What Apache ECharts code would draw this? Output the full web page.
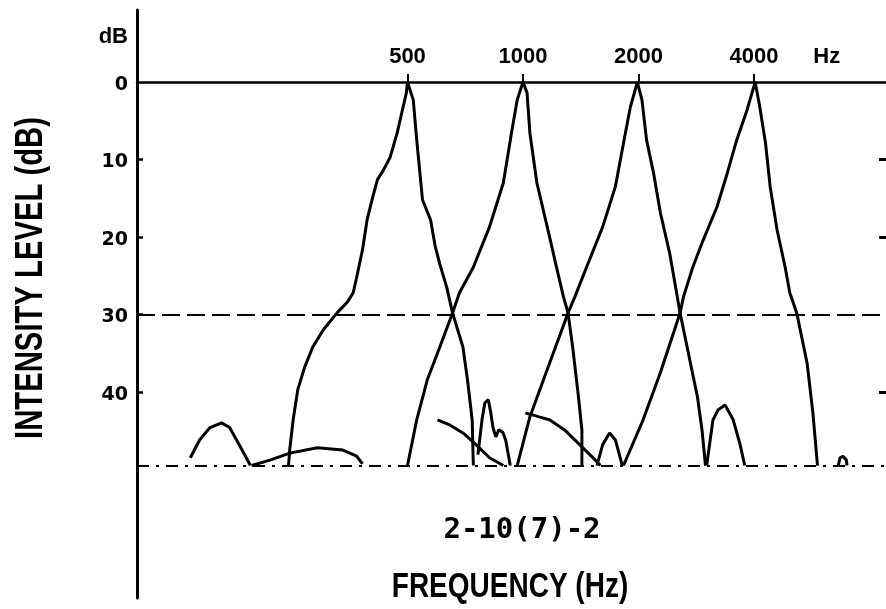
<!DOCTYPE html>
<html>
<head>
<meta charset="utf-8">
<script src="https://cdn.jsdelivr.net/npm/echarts@6/dist/echarts.min.js"></script>
<style>
html,body{margin:0;padding:0;background:#fff;}
#chart{width:886px;height:609px;}
</style>
</head>
<body>
<div id="chart"></div>
<script>
// x values: octaves relative to 1000 Hz; y values: intensity level in dB (downward)
const topTickValues = [-1, 0, 1, 2, 2.63];
const topTickLabels = ['500', '1000', '2000', '4000', 'Hz'];
const yTickValues = [-6.2, 0, 10, 20, 30, 40];
const yTickLabels = ['dB', '0', '10', '20', '30', '40'];
const refLevels = [30, 49.5];

const filter500 = [[-2.03,49.5],[-2.02,47.5],[-1.99,43.6],[-1.95,39.7],[-1.89,36.8],[-1.82,34.2],[-1.73,32.0],[-1.61,29.8],[-1.52,28.4],[-1.47,27.2],[-1.44,25.2],[-1.39,21.7],[-1.35,17.8],[-1.30,14.8],[-1.26,12.6],[-1.21,11.4],[-1.15,9.7],[-1.09,6.6],[-1.05,4.0],[-1.01,1.4],[-1.0,0],[-0.95,2.3],[-0.92,7.5],[-0.87,15.2],[-0.80,17.8],[-0.76,21.2],[-0.72,23.5],[-0.66,26.5],[-0.61,29.8],[-0.52,34.2],[-0.48,38.5],[-0.44,43.6],[-0.43,49.5]];
const filter1000 = [[-1.0,49.5],[-0.92,43.6],[-0.83,38.5],[-0.72,34.2],[-0.61,29.8],[-0.55,27.2],[-0.43,23.9],[-0.29,18.7],[-0.17,13.0],[-0.10,6.6],[-0.05,2.3],[0,0],[0.035,1.4],[0.06,6.6],[0.12,13.0],[0.21,18.7],[0.29,23.9],[0.35,27.7],[0.39,29.8],[0.43,34.2],[0.48,40.6],[0.51,44.9],[0.51,49.5]];
const filter2000 = [[-0.05,49.5],[0.06,43.2],[0.23,36.3],[0.39,29.8],[0.45,27.7],[0.55,23.9],[0.69,18.7],[0.80,13.5],[0.87,7.9],[0.93,3.2],[0.99,0],[1.03,2.3],[1.07,7.5],[1.13,11.7],[1.19,16.9],[1.27,22.1],[1.33,27.2],[1.36,29.8],[1.45,36.3],[1.51,40.6],[1.55,44.9],[1.58,49.5]];
const filter4000 = [[0.87,49.5],[1.04,43.6],[1.19,37.5],[1.36,29.8],[1.39,27.7],[1.47,23.9],[1.56,20.4],[1.68,16.1],[1.77,11.7],[1.85,7.5],[1.94,3.6],[2.01,0],[2.05,3.2],[2.10,7.9],[2.14,13.5],[2.20,19.1],[2.27,23.9],[2.31,27.2],[2.37,29.8],[2.46,36.3],[2.51,42.7],[2.55,49.5]];

const lobeA = [[-2.88,48.5],[-2.80,46.2],[-2.71,44.6],[-2.61,44.0],[-2.54,44.6],[-2.48,46.2],[-2.41,48.1],[-2.36,49.5]];
const lobeB = [[-2.35,49.5],[-2.19,48.8],[-2.02,47.9],[-1.78,47.2],[-1.56,47.5],[-1.44,48.3],[-1.39,49.3]];
const lobeC = [[-0.74,43.6],[-0.63,44.3],[-0.52,45.3],[-0.42,46.6],[-0.29,48.5],[-0.17,49.5]];
const lobeD = [[-0.39,48.1],[-0.355,43.6],[-0.33,41.4],[-0.30,41.0],[-0.28,42.6],[-0.26,44.6],[-0.235,45.8],[-0.21,44.9],[-0.175,45.2],[-0.15,46.2],[-0.11,49.5]];
const lobeE = [[0.02,42.7],[0.23,43.6],[0.36,44.9],[0.49,46.8],[0.64,49.0],[0.67,49.5]];
const lobeF = [[0.64,49.5],[0.69,46.8],[0.75,45.3],[0.80,46.2],[0.86,49.5]];
const lobeG = [[1.59,49.5],[1.645,43.6],[1.69,42.3],[1.75,41.7],[1.82,43.6],[1.88,46.8],[1.92,49.5]];
const lobeH = [[2.73,49.5],[2.745,48.5],[2.77,48.3],[2.80,48.8],[2.805,49.5]];

const curves = [filter500, filter1000, filter2000, filter4000, lobeA, lobeB, lobeC, lobeD, lobeE, lobeF, lobeG, lobeH];

const Y_MIN = -9.3, Y_MAX = 66.6;
const GRID_TOP = 10, GRID_BOTTOM = 11, CH = 609;

function nearestLabel(values, labels, v) {
  let best = 0, d = Infinity;
  values.forEach((x, i) => { if (Math.abs(x - v) < d) { d = Math.abs(x - v); best = i; } });
  return labels[best];
}

const chart = echarts.init(document.getElementById('chart'));
const series = curves.map(c => ({
  type: 'line',
  data: c,
  symbol: 'none',
  smooth: false,
  silent: true,
  lineStyle: { color: '#000', width: 3 },
  z: 3
}));
series[0].markLine = {
  silent: true,
  symbol: 'none',
  label: { show: false },
  data: [
    { yAxis: refLevels[0], lineStyle: { color: '#000', width: 2, type: [18, 7] } },
    { yAxis: refLevels[1], lineStyle: { color: '#000', width: 2, type: [12, 7, 3, 7] } }
  ]
};

// distance from grid top to the 0 dB level, so the top axis sits on 0 dB
const plotH = CH - GRID_TOP - GRID_BOTTOM;
const zeroOffset = plotH * (0 - Y_MIN) / (Y_MAX - Y_MIN);

chart.setOption({
  animation: false,
  backgroundColor: '#fff',
  grid: { left: 137, right: 0, top: GRID_TOP, bottom: GRID_BOTTOM, outerBoundsMode: 'none', containLabel: false },
  xAxis: {
    type: 'value',
    position: 'top',
    offset: -zeroOffset,
    min: -3.342,
    max: 3.143,
    axisLine: { show: true, onZero: false, lineStyle: { color: '#000', width: 2.5 } },
    axisTick: { show: true, customValues: [-1, 0, 1, 2], inside: false, length: 8, lineStyle: { color: '#000', width: 2 } },
    axisLabel: {
      customValues: topTickValues,
      margin: 14,
      color: '#000',
      fontFamily: '"Liberation Sans"',
      fontWeight: 'bold',
      fontSize: 22,
      formatter: v => nearestLabel(topTickValues, topTickLabels, v)
    },
    splitLine: { show: false }
  },
  yAxis: [{
    type: 'value',
    inverse: true,
    min: Y_MIN,
    max: Y_MAX,
    axisLine: { show: true, onZero: false, lineStyle: { color: '#000', width: 3 } },
    axisTick: { show: true, customValues: [10, 20, 30, 40], inside: true, length: 6, lineStyle: { color: '#000', width: 2.5 } },
    axisLabel: {
      customValues: yTickValues,
      margin: 9,
      color: '#000',
      fontFamily: '"DejaVu Sans"',
      fontWeight: 'bold',
      fontSize: 19,
      padding: [6, 0, 0, 0],
      formatter: v => {
        const t = nearestLabel(yTickValues, yTickLabels, v);
        return t === 'dB' ? '{u|dB}' : t;
      },
      rich: { u: { fontFamily: '"Liberation Sans"', fontWeight: 'bold', fontSize: 22, color: '#000' } }
    },
    splitLine: { show: false }
  }, {
    type: 'value',
    position: 'right',
    inverse: true,
    min: Y_MIN,
    max: Y_MAX,
    axisLine: { show: false, onZero: false },
    axisTick: { show: true, customValues: [10, 20, 40], inside: true, length: 7, lineStyle: { color: '#000', width: 3 } },
    axisLabel: { show: false },
    splitLine: { show: false }
  }],
  graphic: [
    { type: 'text', x: 31, y: 278, rotation: Math.PI / 2, scaleX: 0.75,
      style: { text: 'INTENSITY LEVEL (dB)', fill: '#000', font: 'bold 39px "Liberation Sans"', align: 'center', verticalAlign: 'middle' } },
    { type: 'text', x: 522, y: 530,
      style: { text: '2-10(7)-2', fill: '#000', font: 'bold 29px "DejaVu Sans Mono"', align: 'center', verticalAlign: 'middle' } },
    { type: 'text', x: 510, y: 587, scaleX: 0.8,
      style: { text: 'FREQUENCY (Hz)', fill: '#000', font: 'bold 35px "Liberation Sans"', align: 'center', verticalAlign: 'middle' } }
  ],
  series: series
});
</script>
</body>
</html>
